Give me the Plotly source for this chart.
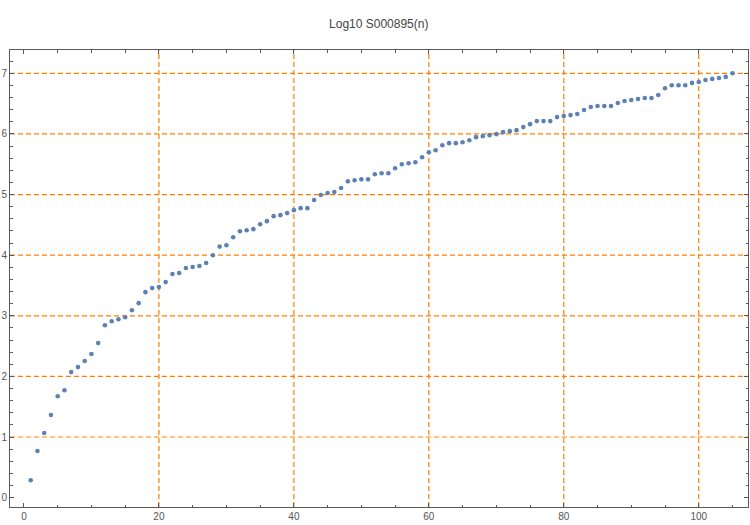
import plotly.graph_objects as go

title_text = "Log10 S000895(n)"

n_values = list(range(1, 106))
log_values = [
    0.287, 0.768, 1.066, 1.364, 1.673, 1.772, 2.071, 2.153, 2.253, 2.369,
    2.551, 2.844, 2.910, 2.943, 2.976, 3.092, 3.208, 3.390, 3.457, 3.473,
    3.556, 3.689, 3.705, 3.788, 3.805, 3.821, 3.871, 3.998, 4.141, 4.163,
    4.296, 4.395, 4.412, 4.429, 4.511, 4.561, 4.644, 4.660, 4.694, 4.743,
    4.776, 4.776, 4.909, 4.992, 5.025, 5.041, 5.108, 5.218, 5.235, 5.251,
    5.251, 5.334, 5.351, 5.351, 5.433, 5.500, 5.516, 5.533, 5.616, 5.698,
    5.732, 5.814, 5.848, 5.848, 5.864, 5.897, 5.947, 5.964, 5.980, 5.997,
    6.030, 6.046, 6.063, 6.113, 6.162, 6.212, 6.212, 6.212, 6.278, 6.295,
    6.311, 6.328, 6.394, 6.444, 6.461, 6.461, 6.461, 6.510, 6.543, 6.560,
    6.577, 6.593, 6.593, 6.643, 6.753, 6.803, 6.803, 6.803, 6.842, 6.858,
    6.891, 6.908, 6.924, 6.941, 7.002,
]

x_grid = [20, 40, 60, 80, 100]
y_grid = [1, 2, 3, 4, 5, 6, 7]
x_ticks = [0, 20, 40, 60, 80, 100]
y_ticks = [0, 1, 2, 3, 4, 5, 6, 7]

frame_color = "#5a5a5a"
label_color = "#555555"
grid_color = "#FF8000"
point_color = "#5E81B5"

fig = go.Figure()
fig.add_trace(go.Scatter(
    x=n_values, y=log_values, mode="markers",
    marker=dict(size=4.6, color=point_color, line=dict(width=0)),
    showlegend=False, hoverinfo="x+y",
))

for v in x_grid:
    fig.add_shape(type="line", xref="x", yref="paper", x0=v, x1=v, y0=0, y1=1,
                  line=dict(color=grid_color, width=1.2, dash="5px,3px"), layer="below")
for v in y_grid:
    fig.add_shape(type="line", xref="paper", yref="y", x0=0, x1=1, y0=v, y1=v,
                  line=dict(color=grid_color, width=1.2, dash="5px,3px"), layer="below")

axis_common = dict(
    showgrid=False, zeroline=False, showline=True, linecolor=frame_color, linewidth=1,
    mirror="allticks", ticks="inside", ticklen=4, tickwidth=1, tickcolor=frame_color,
    tickfont=dict(family="Liberation Sans, Arial, sans-serif", size=10, color=label_color),
)

fig.update_xaxes(
    range=[-2.07, 107.3], tickvals=x_ticks,
    minor=dict(dtick=5, tick0=0, ticks="inside", ticklen=2.5, tickcolor=frame_color, showgrid=False),
    **axis_common,
)
fig.update_yaxes(
    range=[-0.155, 7.385], tickvals=y_ticks,
    minor=dict(dtick=0.2, tick0=0, ticks="inside", ticklen=2.5, tickcolor=frame_color, showgrid=False),
    **axis_common,
)

fig.update_layout(
    width=750, height=525,
    margin=dict(l=9, r=1, t=50, b=18, pad=0),
    paper_bgcolor="white", plot_bgcolor="white",
    title=dict(text=title_text, x=0.505, xanchor="center", y=1 - 24 / 525, yanchor="middle",
               font=dict(family="Liberation Sans, Arial, sans-serif", size=12, color="#444444")),
)

fig.write_html("out.html", config={"displayModeBar": False},
               post_script="document.body.style.margin='0';document.body.style.padding='0';")
